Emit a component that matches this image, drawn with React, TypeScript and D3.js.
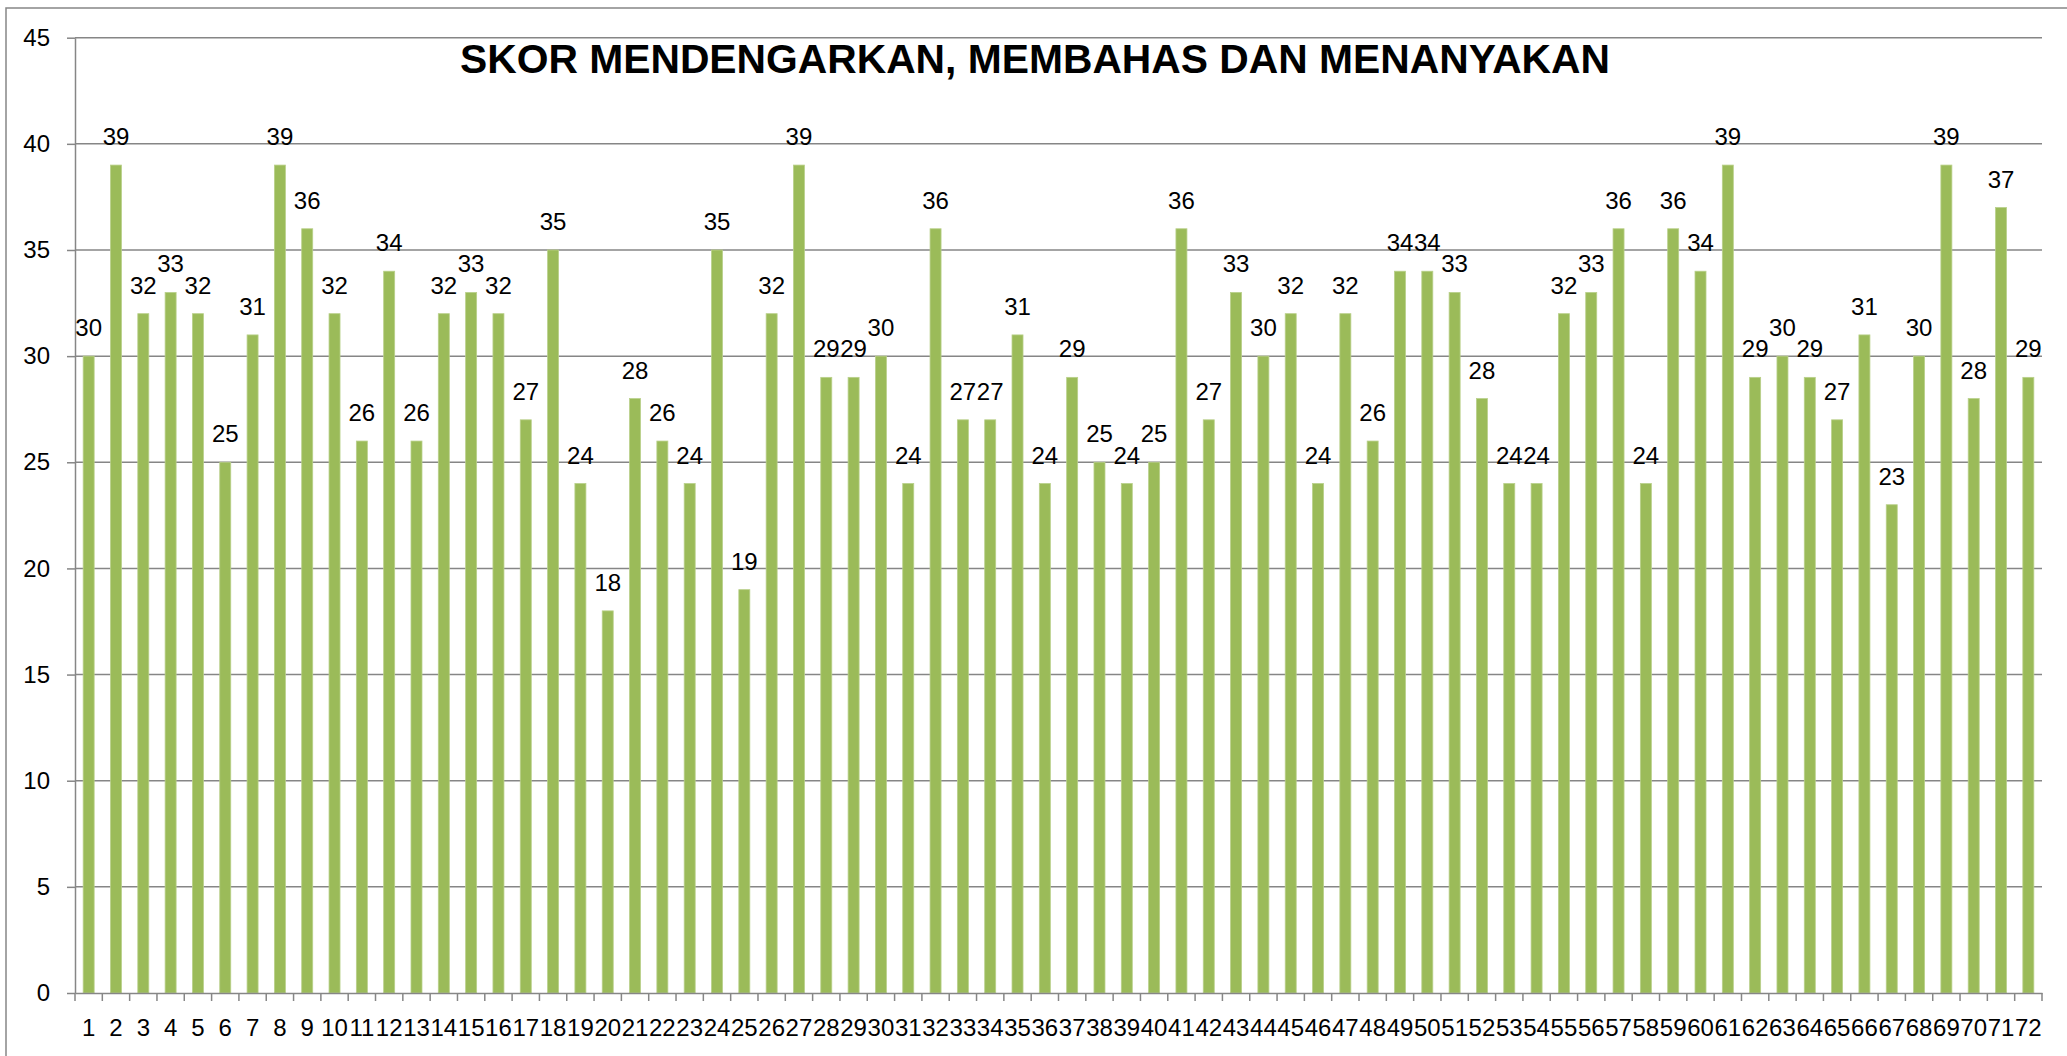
import * as React from "react";
import * as d3 from "d3";
import { useEffect, useRef } from "react";

const title = "SKOR MENDENGARKAN, MEMBAHAS DAN MENANYAKAN";
const students = d3.range(1, 73).map((i) => String(i));
const scores = [
  30, 39, 32, 33, 32, 25, 31, 39, 36, 32, 26, 34, 26, 32, 33, 32, 27, 35, 24,
  18, 28, 26, 24, 35, 19, 32, 39, 29, 29, 30, 24, 36, 27, 27, 31, 24, 29, 25,
  24, 25, 36, 27, 33, 30, 32, 24, 32, 26, 34, 34, 33, 28, 24, 24, 32, 33, 36,
  24, 36, 34, 39, 29, 30, 29, 27, 31, 23, 30, 39, 28, 37, 29,
];
const yTicks = [0, 5, 10, 15, 20, 25, 30, 35, 40, 45];

const W = 2067;
const H = 1056;
const FONT = '"Liberation Sans", Arial, sans-serif';

function drawChart(svgEl: SVGSVGElement) {
  const svg = d3.select(svgEl);
  svg.selectAll("*").remove();

  const left = 75;
  const right = 2042;
  const top = 37.7;
  const bottom = 993;
  const grey = "#868686";

  // outer frame (only top and left visible)
  svg
    .append("rect")
    .attr("x", 6)
    .attr("y", 8)
    .attr("width", W + 20)
    .attr("height", H + 20)
    .attr("fill", "white")
    .attr("stroke", grey)
    .attr("stroke-width", 1.5);

  const x = d3.scaleBand().domain(students).range([left, right]).padding(0);
  const y = d3.scaleLinear().domain([0, 45]).range([bottom, top]);

  // gridlines
  svg
    .append("g")
    .selectAll("line")
    .data(yTicks.filter((t) => t > 0))
    .enter()
    .append("line")
    .attr("x1", left)
    .attr("x2", right)
    .attr("y1", (d) => y(d))
    .attr("y2", (d) => y(d))
    .attr("stroke", grey)
    .attr("stroke-width", 1.5);

  // y axis
  const yAxis = d3
    .axisLeft(y)
    .tickValues(yTicks)
    .tickSize(8)
    .tickSizeOuter(0)
    .tickPadding(17);
  const gy = svg
    .append("g")
    .attr("transform", `translate(${left},0)`)
    .call(yAxis);
  gy.selectAll("path, line").attr("stroke", grey).attr("stroke-width", 1.5);
  gy.selectAll("text")
    .attr("font-family", FONT)
    .attr("font-size", 24)
    .attr("fill", "#000");

  // bars
  const barW = 11;
  svg
    .append("g")
    .selectAll("rect")
    .data(scores)
    .enter()
    .append("rect")
    .attr("x", (_, i) => x(students[i])! + x.bandwidth() / 2 - barW / 2)
    .attr("y", (d) => y(d))
    .attr("width", barW)
    .attr("height", (d) => bottom - y(d))
    .attr("fill", "#9BBB59")
    .attr("stroke", "#B9D08A")
    .attr("stroke-width", 0.8);

  // x axis
  const xAxis = d3
    .axisBottom(x)
    .tickSize(0)
    .tickSizeOuter(0)
    .tickPadding(26);
  const gx = svg
    .append("g")
    .attr("transform", `translate(0,${bottom})`)
    .call(xAxis);
  gx.selectAll("path").attr("stroke", grey).attr("stroke-width", 1.5);
  gx.selectAll("text")
    .attr("font-family", FONT)
    .attr("font-size", 24)
    .attr("fill", "#000");
  // ticks between categories
  gx.append("g")
    .selectAll("line")
    .data(d3.range(0, students.length + 1))
    .enter()
    .append("line")
    .attr("x1", (d) => left + d * x.step())
    .attr("x2", (d) => left + d * x.step())
    .attr("y1", 0)
    .attr("y2", 8)
    .attr("stroke", grey)
    .attr("stroke-width", 1.5);

  // data labels
  svg
    .append("g")
    .selectAll("text")
    .data(scores)
    .enter()
    .append("text")
    .attr("x", (_, i) => x(students[i])! + x.bandwidth() / 2)
    .attr("y", (d) => y(d) - 20)
    .attr("text-anchor", "middle")
    .attr("font-family", FONT)
    .attr("font-size", 24)
    .attr("fill", "#000")
    .text((d) => d);

  // title
  svg
    .append("text")
    .attr("x", 1035)
    .attr("y", 73)
    .attr("text-anchor", "middle")
    .attr("font-family", FONT)
    .attr("font-weight", "bold")
    .attr("font-size", 41)
    .attr("textLength", 1150)
    .attr("lengthAdjust", "spacingAndGlyphs")
    .text(title);
}

export default function App() {
  const ref = useRef<SVGSVGElement>(null);
  useEffect(() => {
    if (ref.current) drawChart(ref.current);
  }, []);
  return (
    <svg
      ref={ref}
      width={W}
      height={H}
      style={{ position: "absolute", left: 0, top: 0, background: "white" }}
    />
  );
}
